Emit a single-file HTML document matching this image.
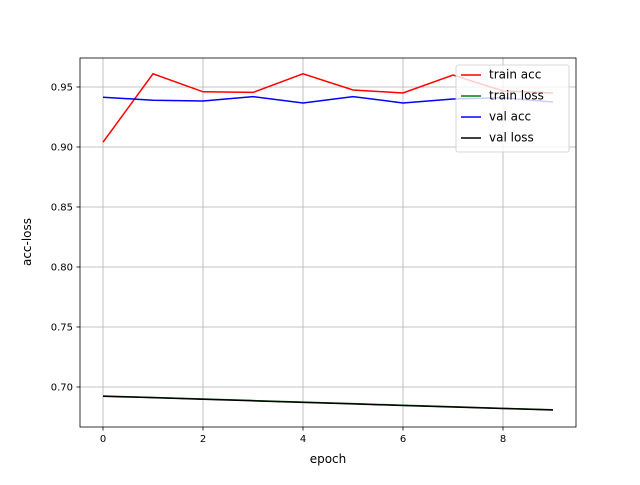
<!DOCTYPE html>
<html><head><meta charset="utf-8"><style>
body{margin:0;background:#fff}
svg text{font-family:"DejaVu Sans","Liberation Sans",sans-serif;font-size:10px;fill:#000}
</style></head><body>
<svg id="chart" width="640" height="480" viewBox="0 0 640 480">
<rect x="0" y="0" width="640" height="480" fill="#fff"/>
<g id="grid"></g>
<g id="ticks"></g>
<g id="series"></g>
<rect x="80" y="58" width="496" height="369" fill="none" stroke="#000" stroke-width="0.8"/>
<text x="328" y="463" text-anchor="middle" style="font-size:12px">epoch</text>
<text x="0" y="0" transform="translate(31,242) rotate(-90)" text-anchor="middle" style="font-size:12px">acc-loss</text>
<g>
<rect x="456" y="65" width="113" height="87" rx="2" fill="#fff" fill-opacity="0.8" stroke="#ccc" stroke-width="0.8"/>
<g id="legend-items"></g>
</g>
</svg>
<script>
const epochs=[0,1,2,3,4,5,6,7,8,9];
const trainAcc=[0.904,0.961,0.946,0.9455,0.961,0.9475,0.945,0.960,0.9467,0.945];
const valAcc=[0.9415,0.939,0.9383,0.942,0.9367,0.942,0.9367,0.940,0.941,0.9375];
const trainLoss=[0.6925,0.6913,0.6900,0.6887,0.6874,0.6861,0.6848,0.6835,0.6822,0.6810];
const valLoss=[0.6923,0.6911,0.6898,0.6885,0.6872,0.6859,0.6846,0.6833,0.6821,0.6808];
const xTicks=[0,2,4,6,8];
const yTicks=[0.70,0.75,0.80,0.85,0.90,0.95];
const NS="http://www.w3.org/2000/svg";
const xs=v=>103+v*50;
const ys=v=>387-(v-0.70)*1200;
function mk(t,a,p){const e=document.createElementNS(NS,t);for(const k in a)e.setAttribute(k,a[k]);p.appendChild(e);return e;}
const grid=document.getElementById('grid'),ticks=document.getElementById('ticks'),ser=document.getElementById('series');
xTicks.forEach(v=>{
 const g=mk('line',{x1:xs(v),x2:xs(v),y1:58,y2:427,stroke:'#b0b0b0','stroke-width':0.8},grid);
 
 
 mk('line',{x1:xs(v),x2:xs(v),y1:427,y2:430.5,stroke:'#000','stroke-width':0.8},ticks);
 const t=mk('text',{x:xs(v),y:442,'text-anchor':'middle'},ticks);t.textContent=v;
 
 
});
yTicks.forEach(v=>{
 const g=mk('line',{x1:80,x2:576,y1:ys(v),y2:ys(v),stroke:'#b0b0b0','stroke-width':0.8},grid);
 
 
 mk('line',{x1:76.5,x2:80,y1:ys(v),y2:ys(v),stroke:'#000','stroke-width':0.8},ticks);
 const t=mk('text',{x:73,y:ys(v)+3.5,'text-anchor':'end'},ticks);t.textContent=v.toFixed(2);
 
 
});
const series=[['train-acc',trainAcc,'#e41a1c','red','train acc'],['train-loss',trainLoss,'green','green','train loss'],['val-acc',valAcc,'blue','blue','val acc'],['val-loss',valLoss,'black','black','val loss']];
const leg=document.getElementById('legend-items');
series.forEach((s,i)=>{
 const p=mk('polyline',{points:epochs.map((e,j)=>xs(e)+','+ys(s[1][j])).join(' '),fill:'none',stroke:s[3],'stroke-width':1.5},ser);
 
 
 const y=75+i*21;
 mk('line',{x1:461,x2:481,y1:y,y2:y,stroke:s[3],'stroke-width':1.5},leg);
 const t=mk('text',{x:489,y:y+3.5},leg);t.textContent=s[4];
 t.style.fontSize='12px';
 
 
});
</script>
</body></html>
